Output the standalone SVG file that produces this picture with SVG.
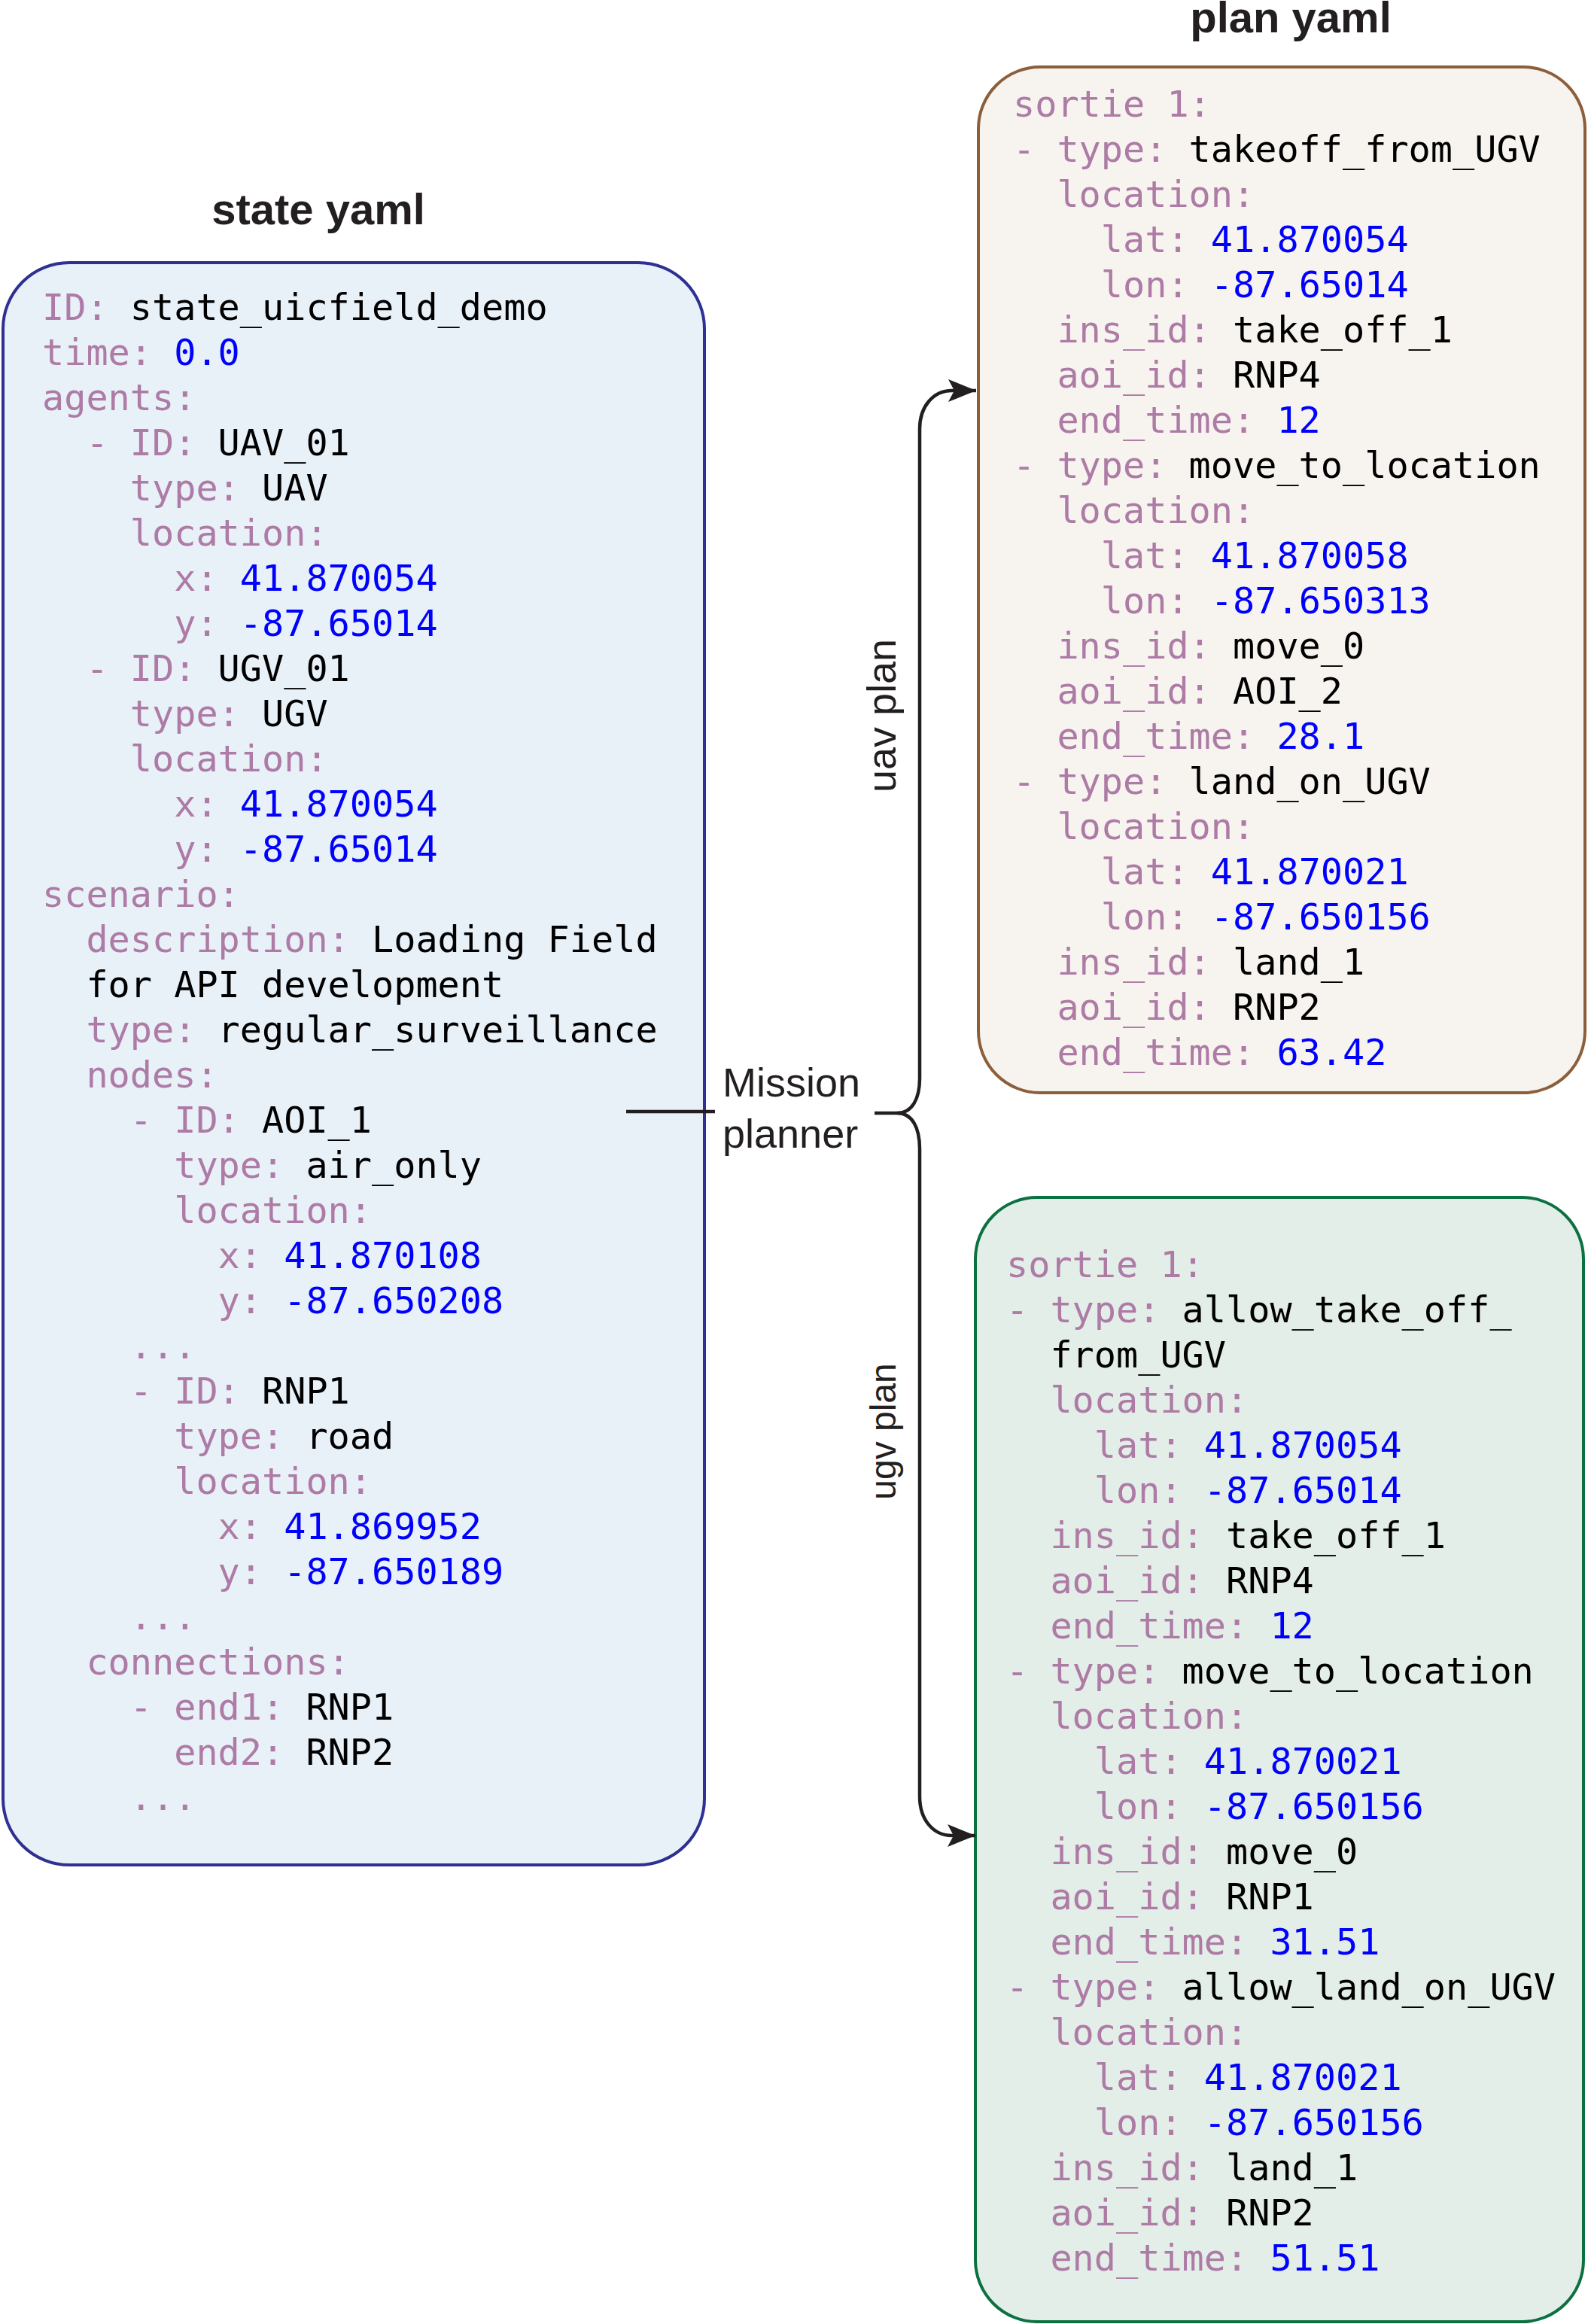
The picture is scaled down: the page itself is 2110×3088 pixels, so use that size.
<svg xmlns="http://www.w3.org/2000/svg" width="2110" height="3088" viewBox="0 0 2110 3088">
<style>
.title{font-family:"Liberation Sans",Arial,sans-serif;font-weight:bold;font-size:58px;fill:#231f20;text-anchor:middle}
.code{font-family:"DejaVu Sans Mono",monospace;font-size:48.5px;fill:#000;white-space:pre}
.k{fill:#ad7ba5}
.n{fill:#0000ff}
.lbl{font-family:"Liberation Sans",Arial,sans-serif;font-size:54px;fill:#231f20}
.side{font-family:"Liberation Sans",Arial,sans-serif;fill:#231f20;text-anchor:middle}
.conn{fill:none;stroke:#231f20;stroke-width:4.5}
</style>
<defs>
<marker id="arr" viewBox="0 0 37 30" refX="37" refY="15" markerWidth="37" markerHeight="30" markerUnits="userSpaceOnUse" orient="auto">
<path d="M0,0 L37,15 L0,30 L8,15 Z" fill="#231f20"/>
</marker>
</defs>
<rect width="2110" height="3088" fill="#fff"/>

<text class="title" x="423" y="298">state yaml</text>
<text class="title" x="1715" y="43">plan yaml</text>

<g id="state-yaml">
<rect x="4" y="349" width="932" height="2129" rx="88" ry="88" fill="#e8f0f8" stroke="#2e3192" stroke-width="4"/>
<text class="code" xml:space="preserve" x="56" y="425"><tspan class="k">ID:</tspan> state_uicfield_demo</text>
<text class="code" xml:space="preserve" x="56" y="485"><tspan class="k">time:</tspan> <tspan class="n">0.0</tspan></text>
<text class="code" xml:space="preserve" x="56" y="545"><tspan class="k">agents:</tspan></text>
<text class="code" xml:space="preserve" x="56" y="605">  <tspan class="k">- ID:</tspan> UAV_01</text>
<text class="code" xml:space="preserve" x="56" y="665">    <tspan class="k">type:</tspan> UAV</text>
<text class="code" xml:space="preserve" x="56" y="725">    <tspan class="k">location:</tspan></text>
<text class="code" xml:space="preserve" x="56" y="785">      <tspan class="k">x:</tspan> <tspan class="n">41.870054</tspan></text>
<text class="code" xml:space="preserve" x="56" y="845">      <tspan class="k">y:</tspan> <tspan class="n">-87.65014</tspan></text>
<text class="code" xml:space="preserve" x="56" y="905">  <tspan class="k">- ID:</tspan> UGV_01</text>
<text class="code" xml:space="preserve" x="56" y="965">    <tspan class="k">type:</tspan> UGV</text>
<text class="code" xml:space="preserve" x="56" y="1025">    <tspan class="k">location:</tspan></text>
<text class="code" xml:space="preserve" x="56" y="1085">      <tspan class="k">x:</tspan> <tspan class="n">41.870054</tspan></text>
<text class="code" xml:space="preserve" x="56" y="1145">      <tspan class="k">y:</tspan> <tspan class="n">-87.65014</tspan></text>
<text class="code" xml:space="preserve" x="56" y="1205"><tspan class="k">scenario:</tspan></text>
<text class="code" xml:space="preserve" x="56" y="1265">  <tspan class="k">description:</tspan> Loading Field</text>
<text class="code" xml:space="preserve" x="56" y="1325">  for API development</text>
<text class="code" xml:space="preserve" x="56" y="1385">  <tspan class="k">type:</tspan> regular_surveillance</text>
<text class="code" xml:space="preserve" x="56" y="1445">  <tspan class="k">nodes:</tspan></text>
<text class="code" xml:space="preserve" x="56" y="1505">    <tspan class="k">- ID:</tspan> AOI_1</text>
<text class="code" xml:space="preserve" x="56" y="1565">      <tspan class="k">type:</tspan> air_only</text>
<text class="code" xml:space="preserve" x="56" y="1625">      <tspan class="k">location:</tspan></text>
<text class="code" xml:space="preserve" x="56" y="1685">        <tspan class="k">x:</tspan> <tspan class="n">41.870108</tspan></text>
<text class="code" xml:space="preserve" x="56" y="1745">        <tspan class="k">y:</tspan> <tspan class="n">-87.650208</tspan></text>
<text class="code" xml:space="preserve" x="56" y="1805">    <tspan class="k">...</tspan></text>
<text class="code" xml:space="preserve" x="56" y="1865">    <tspan class="k">- ID:</tspan> RNP1</text>
<text class="code" xml:space="preserve" x="56" y="1925">      <tspan class="k">type:</tspan> road</text>
<text class="code" xml:space="preserve" x="56" y="1985">      <tspan class="k">location:</tspan></text>
<text class="code" xml:space="preserve" x="56" y="2045">        <tspan class="k">x:</tspan> <tspan class="n">41.869952</tspan></text>
<text class="code" xml:space="preserve" x="56" y="2105">        <tspan class="k">y:</tspan> <tspan class="n">-87.650189</tspan></text>
<text class="code" xml:space="preserve" x="56" y="2165">    <tspan class="k">...</tspan></text>
<text class="code" xml:space="preserve" x="56" y="2225">  <tspan class="k">connections:</tspan></text>
<text class="code" xml:space="preserve" x="56" y="2285">    <tspan class="k">- end1:</tspan> RNP1</text>
<text class="code" xml:space="preserve" x="56" y="2345">      <tspan class="k">end2:</tspan> RNP2</text>
<text class="code" xml:space="preserve" x="56" y="2405">    <tspan class="k">...</tspan></text>
</g>

<g id="uav-plan">
<rect x="1300" y="89" width="806" height="1363" rx="82" ry="82" fill="#f7f4ef" stroke="#8c5e3a" stroke-width="4"/>
<text class="code" xml:space="preserve" x="1346" y="155"><tspan class="k">sortie 1:</tspan></text>
<text class="code" xml:space="preserve" x="1346" y="215"><tspan class="k">- type:</tspan> takeoff_from_UGV</text>
<text class="code" xml:space="preserve" x="1346" y="275">  <tspan class="k">location:</tspan></text>
<text class="code" xml:space="preserve" x="1346" y="335">    <tspan class="k">lat:</tspan> <tspan class="n">41.870054</tspan></text>
<text class="code" xml:space="preserve" x="1346" y="395">    <tspan class="k">lon:</tspan> <tspan class="n">-87.65014</tspan></text>
<text class="code" xml:space="preserve" x="1346" y="455">  <tspan class="k">ins_id:</tspan> take_off_1</text>
<text class="code" xml:space="preserve" x="1346" y="515">  <tspan class="k">aoi_id:</tspan> RNP4</text>
<text class="code" xml:space="preserve" x="1346" y="575">  <tspan class="k">end_time:</tspan> <tspan class="n">12</tspan></text>
<text class="code" xml:space="preserve" x="1346" y="635"><tspan class="k">- type:</tspan> move_to_location</text>
<text class="code" xml:space="preserve" x="1346" y="695">  <tspan class="k">location:</tspan></text>
<text class="code" xml:space="preserve" x="1346" y="755">    <tspan class="k">lat:</tspan> <tspan class="n">41.870058</tspan></text>
<text class="code" xml:space="preserve" x="1346" y="815">    <tspan class="k">lon:</tspan> <tspan class="n">-87.650313</tspan></text>
<text class="code" xml:space="preserve" x="1346" y="875">  <tspan class="k">ins_id:</tspan> move_0</text>
<text class="code" xml:space="preserve" x="1346" y="935">  <tspan class="k">aoi_id:</tspan> AOI_2</text>
<text class="code" xml:space="preserve" x="1346" y="995">  <tspan class="k">end_time:</tspan> <tspan class="n">28.1</tspan></text>
<text class="code" xml:space="preserve" x="1346" y="1055"><tspan class="k">- type:</tspan> land_on_UGV</text>
<text class="code" xml:space="preserve" x="1346" y="1115">  <tspan class="k">location:</tspan></text>
<text class="code" xml:space="preserve" x="1346" y="1175">    <tspan class="k">lat:</tspan> <tspan class="n">41.870021</tspan></text>
<text class="code" xml:space="preserve" x="1346" y="1235">    <tspan class="k">lon:</tspan> <tspan class="n">-87.650156</tspan></text>
<text class="code" xml:space="preserve" x="1346" y="1295">  <tspan class="k">ins_id:</tspan> land_1</text>
<text class="code" xml:space="preserve" x="1346" y="1355">  <tspan class="k">aoi_id:</tspan> RNP2</text>
<text class="code" xml:space="preserve" x="1346" y="1415">  <tspan class="k">end_time:</tspan> <tspan class="n">63.42</tspan></text>
</g>

<g id="ugv-plan">
<rect x="1296" y="1591" width="808" height="1494" rx="82" ry="82" fill="#e4eee8" stroke="#0b7140" stroke-width="4"/>
<text class="code" xml:space="preserve" x="1337" y="1697"><tspan class="k">sortie 1:</tspan></text>
<text class="code" xml:space="preserve" x="1337" y="1757"><tspan class="k">- type:</tspan> allow_take_off_</text>
<text class="code" xml:space="preserve" x="1337" y="1817">  from_UGV</text>
<text class="code" xml:space="preserve" x="1337" y="1877">  <tspan class="k">location:</tspan></text>
<text class="code" xml:space="preserve" x="1337" y="1937">    <tspan class="k">lat:</tspan> <tspan class="n">41.870054</tspan></text>
<text class="code" xml:space="preserve" x="1337" y="1997">    <tspan class="k">lon:</tspan> <tspan class="n">-87.65014</tspan></text>
<text class="code" xml:space="preserve" x="1337" y="2057">  <tspan class="k">ins_id:</tspan> take_off_1</text>
<text class="code" xml:space="preserve" x="1337" y="2117">  <tspan class="k">aoi_id:</tspan> RNP4</text>
<text class="code" xml:space="preserve" x="1337" y="2177">  <tspan class="k">end_time:</tspan> <tspan class="n">12</tspan></text>
<text class="code" xml:space="preserve" x="1337" y="2237"><tspan class="k">- type:</tspan> move_to_location</text>
<text class="code" xml:space="preserve" x="1337" y="2297">  <tspan class="k">location:</tspan></text>
<text class="code" xml:space="preserve" x="1337" y="2357">    <tspan class="k">lat:</tspan> <tspan class="n">41.870021</tspan></text>
<text class="code" xml:space="preserve" x="1337" y="2417">    <tspan class="k">lon:</tspan> <tspan class="n">-87.650156</tspan></text>
<text class="code" xml:space="preserve" x="1337" y="2477">  <tspan class="k">ins_id:</tspan> move_0</text>
<text class="code" xml:space="preserve" x="1337" y="2537">  <tspan class="k">aoi_id:</tspan> RNP1</text>
<text class="code" xml:space="preserve" x="1337" y="2597">  <tspan class="k">end_time:</tspan> <tspan class="n">31.51</tspan></text>
<text class="code" xml:space="preserve" x="1337" y="2657"><tspan class="k">- type:</tspan> allow_land_on_UGV</text>
<text class="code" xml:space="preserve" x="1337" y="2717">  <tspan class="k">location:</tspan></text>
<text class="code" xml:space="preserve" x="1337" y="2777">    <tspan class="k">lat:</tspan> <tspan class="n">41.870021</tspan></text>
<text class="code" xml:space="preserve" x="1337" y="2837">    <tspan class="k">lon:</tspan> <tspan class="n">-87.650156</tspan></text>
<text class="code" xml:space="preserve" x="1337" y="2897">  <tspan class="k">ins_id:</tspan> land_1</text>
<text class="code" xml:space="preserve" x="1337" y="2957">  <tspan class="k">aoi_id:</tspan> RNP2</text>
<text class="code" xml:space="preserve" x="1337" y="3017">  <tspan class="k">end_time:</tspan> <tspan class="n">51.51</tspan></text>
</g>

<g id="mission-planner">
<text class="lbl" x="960" y="1457">Mission</text>
<text class="lbl" x="960" y="1525">planner</text>
</g>

<g id="connectors">
<path class="conn" d="M832,1477 H950" stroke-width="3"/>
<path class="conn" d="M1162,1479 H1192"/>
<path class="conn" d="M1192,1479 C1212,1479 1222,1460 1222,1433 V570 C1222,540 1240,519 1265,519 H1297" marker-end="url(#arr)"/>
<path class="conn" d="M1192,1479 C1212,1479 1222,1498 1222,1527 V2387 C1222,2418 1240,2439 1265,2439 H1296" marker-end="url(#arr)"/>
<text class="side" font-size="54" transform="translate(1190,951) rotate(-90)">uav plan</text>
<text class="side" font-size="48" transform="translate(1190,1902) rotate(-90)">ugv plan</text>
</g>
</svg>
